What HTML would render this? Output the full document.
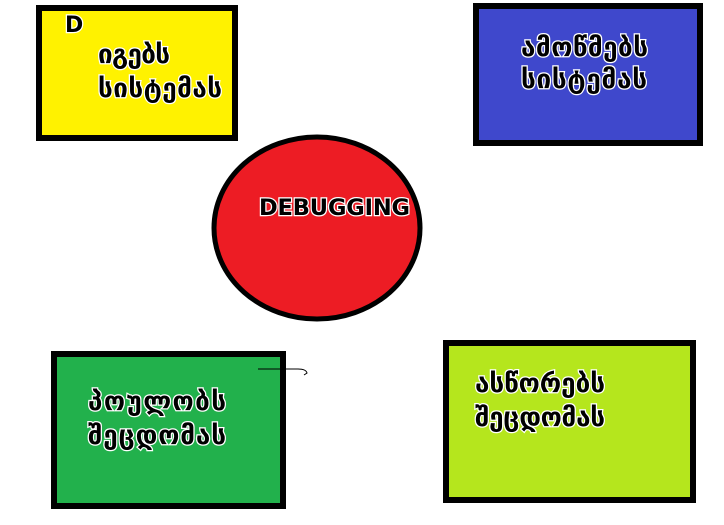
<!DOCTYPE html>
<html><head><meta charset="utf-8"><style>
html,body{margin:0;padding:0;background:#fff;width:724px;height:525px;overflow:hidden}
svg text{font-family:"DejaVu Sans","Liberation Sans",sans-serif;font-weight:bold;font-size:26px;fill:#000;stroke:#fff;stroke-width:2.5px;paint-order:stroke;}
</style></head><body>
<svg width="724" height="525" xmlns="http://www.w3.org/2000/svg">
<rect x="39" y="8" width="196" height="130" fill="#fff200" stroke="#000" stroke-width="6"/>
<rect x="476" y="6" width="224" height="137" fill="#3f48cc" stroke="#000" stroke-width="6"/>
<ellipse cx="317" cy="228" rx="103" ry="91" fill="#ed1c24" stroke="#000" stroke-width="5"/>
<rect x="54" y="354" width="229" height="152" fill="#22b14c" stroke="#000" stroke-width="6"/>
<rect x="446" y="343" width="247" height="157" fill="#b5e61d" stroke="#000" stroke-width="6"/>
<path d="M258 369 L298 369 Q306 369 307 373 L304 375" fill="none" stroke="#000" stroke-width="1"/>
<text x="65" y="32" style="font-size:22px">D</text>
<text x="98" y="63" textLength="72">იგებს</text>
<text x="98" y="97" textLength="124">სისტემას</text>
<text x="521" y="56" textLength="127">ამოწმებს</text>
<text x="521" y="88" textLength="126">სისტემას</text>
<text x="259" y="215" style="font-size:22.5px" textLength="151">DEBUGGING</text>
<text x="88" y="410" textLength="138">პოულობს</text>
<text x="88" y="444" textLength="138">შეცდომას</text>
<text x="475" y="392" textLength="130">ასწორებს</text>
<text x="475" y="426" textLength="130">შეცდომას</text>
</svg>
</body></html>
